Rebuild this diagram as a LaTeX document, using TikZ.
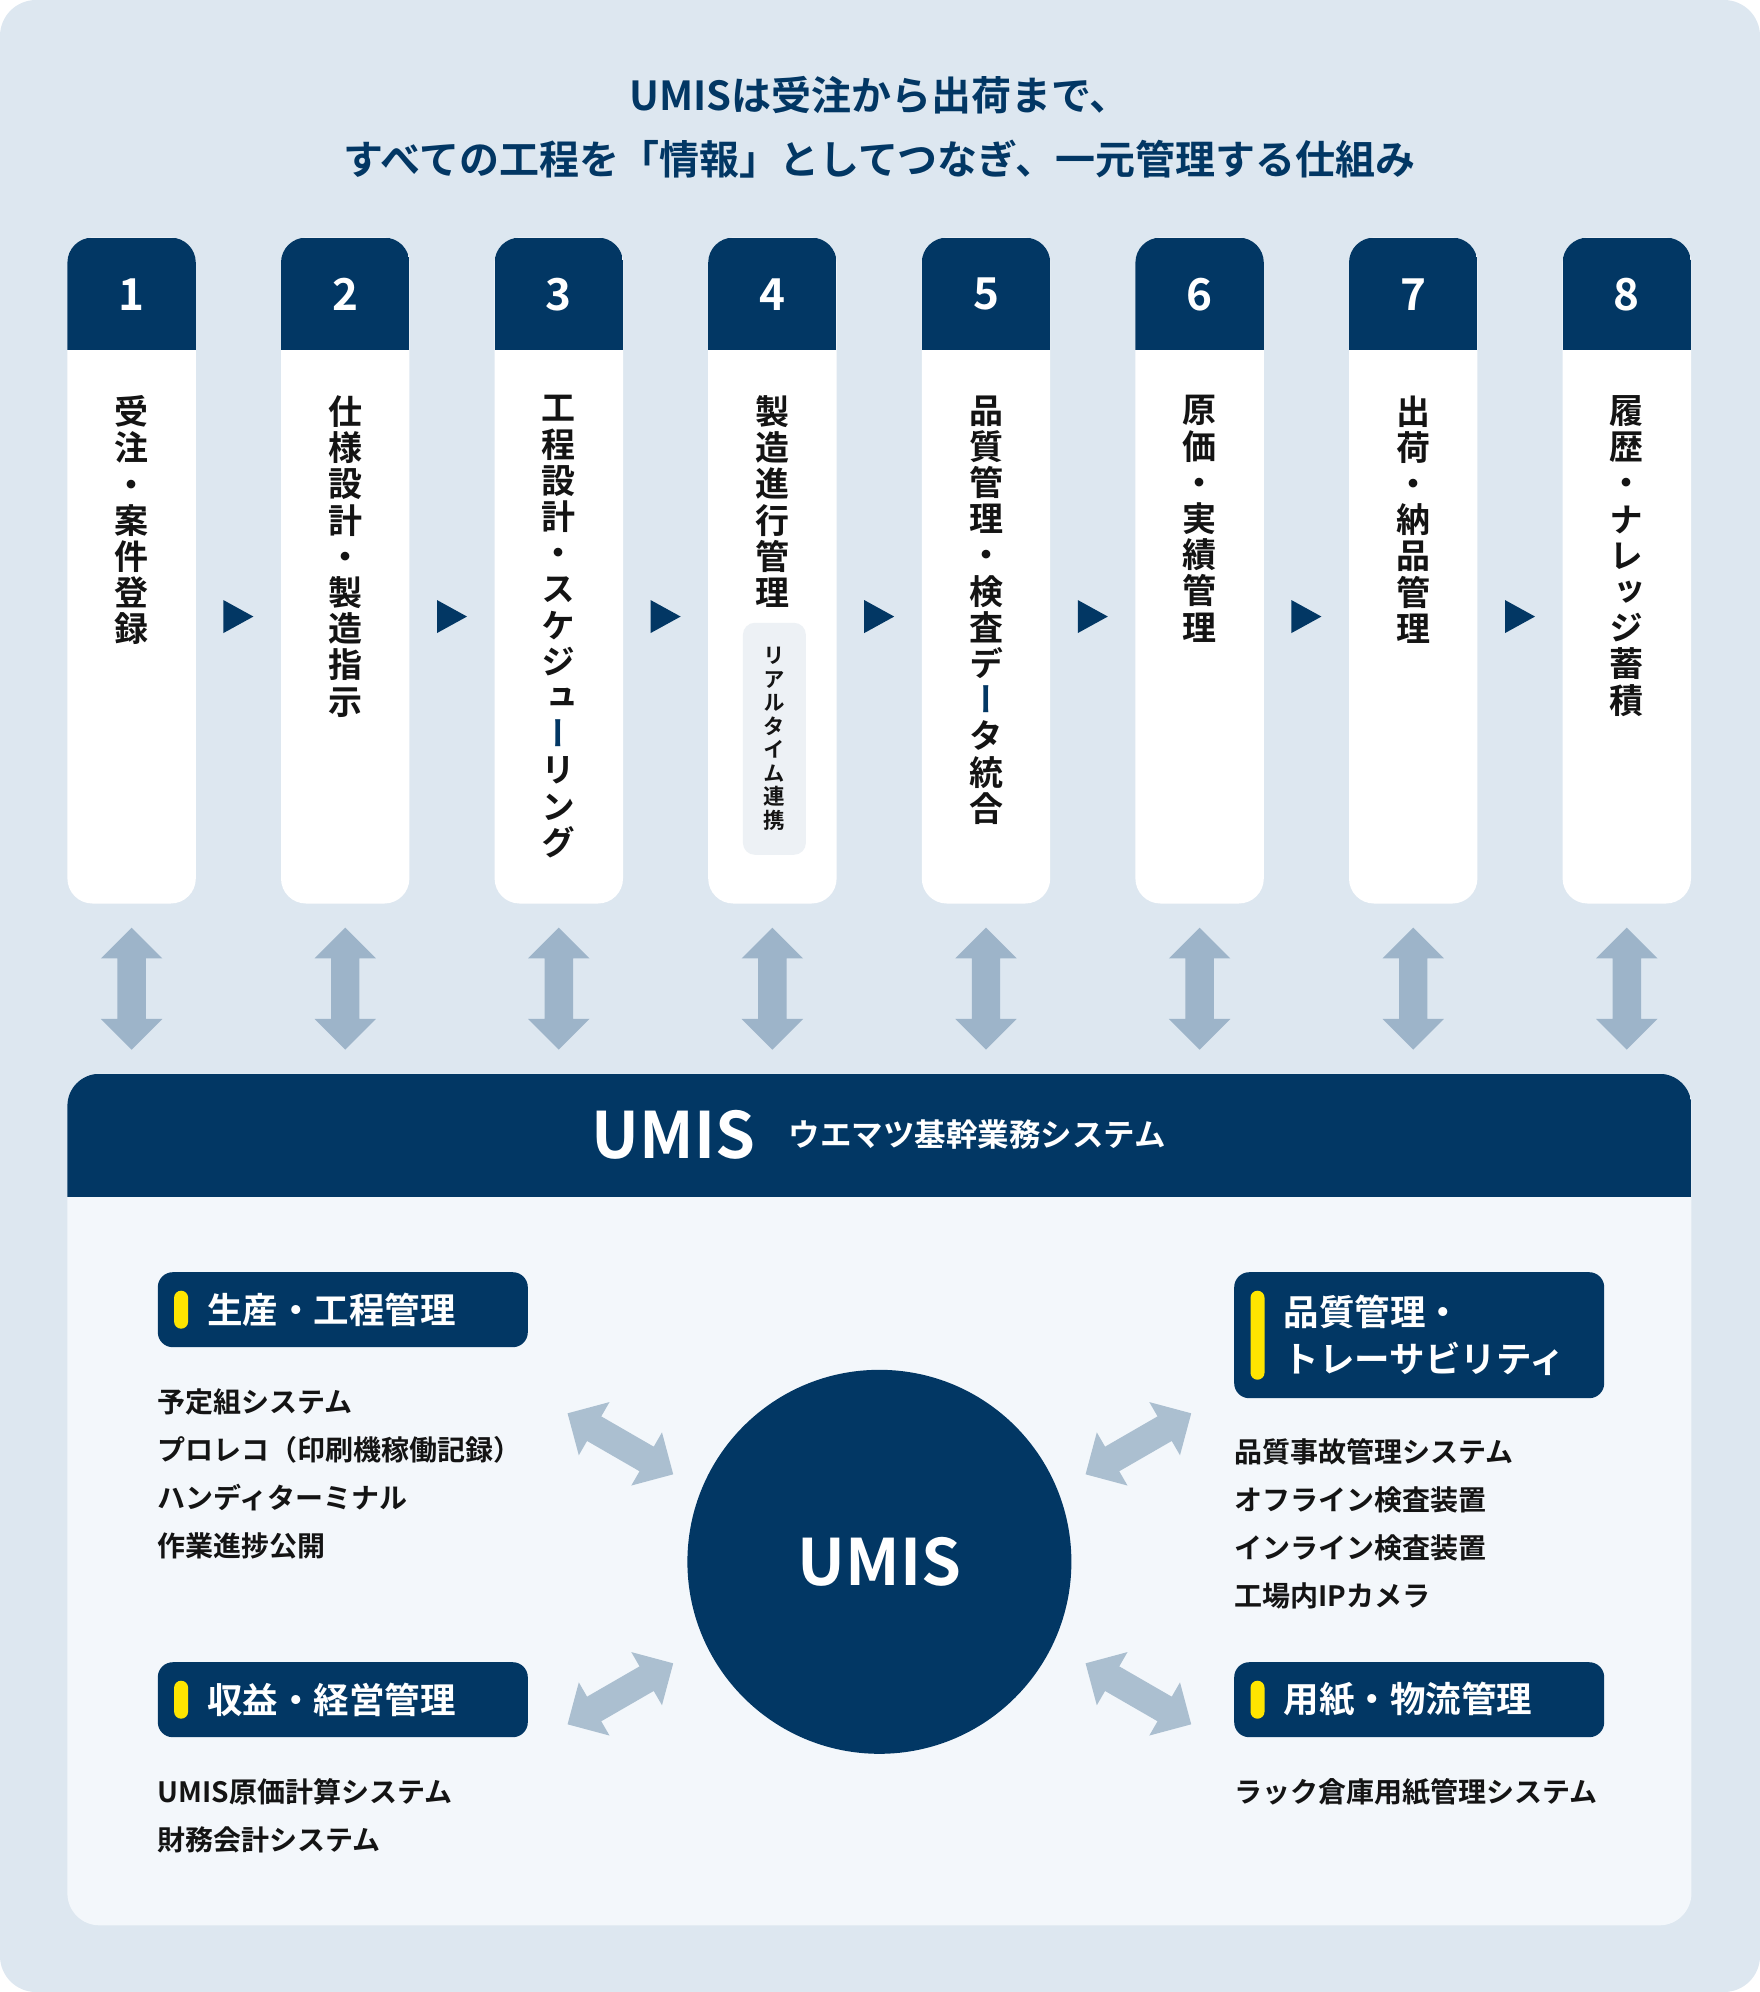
\documentclass[tikz,border=0pt]{standalone}
\usepackage{fontspec}
\setmainfont{Noto Sans CJK JP}[BoldFont={Noto Sans CJK JP Bold}]
\newfontfamily\vjp{Noto Sans CJK JP}[BoldFont={Noto Sans CJK JP Bold},RawFeature={+vert}]
\usepackage{tikz}
\usetikzlibrary{positioning,calc,shapes.arrows}
\definecolor{umnavy}{HTML}{023764}
\definecolor{bgblue}{HTML}{DDE7F0}
\definecolor{panelbg}{HTML}{F3F7FB}
\definecolor{linkblue}{HTML}{9DB4C9}
\definecolor{linklight}{HTML}{ABBFD0}
\definecolor{subgray}{HTML}{EDF1F5}
\definecolor{pillyellow}{HTML}{FFE500}

\begin{document}
\begin{tikzpicture}[x=1pt, y=1pt,
    card/.style={fill=white, rounded corners=25pt, minimum width=128.4pt,
                 minimum height=665.9pt, inner sep=0pt,
                 path picture={\fill[umnavy, sharp corners] (path picture bounding box.north west)
                               rectangle ([yshift=-112pt]path picture bounding box.north east);}},
    num/.style={text=white, inner sep=0pt, font=\bfseries\fontsize{44}{44}\selectfont},
    vt/.style={anchor=north, align=center, inner sep=0pt, text=black!92,
               font=\vjp\bfseries\fontsize{34}{36.2}\selectfont},
    link/.style={double arrow, double arrow head extend=16.5pt, double arrow head indent=0pt,
                 minimum height=122pt, minimum width=61pt, inner xsep=0pt, inner ysep=14pt},
    vlink/.style={link, fill=linkblue, rotate=90},
    dlink/.style={link, fill=linklight},
    cat/.style={anchor=north west, fill=umnavy, rounded corners=15pt, text=white,
                align=left, text width=271pt, inner xsep=49.5pt, inner ysep=0pt,
                minimum height=75pt, font=\bfseries\fontsize{35.5}{47}\selectfont},
    pill/.style={fill=pillyellow, rounded corners=7pt, minimum width=14pt,
                 minimum height=38pt, inner sep=0pt},
    items/.style={anchor=north west, align=left, inner sep=0pt, text=black!92,
                  font=\bfseries\fontsize{28}{48}\selectfont},
]
% === Background ===
\useasboundingbox (0,0) rectangle (1760,-1992);
\fill[bgblue, rounded corners=36pt] (0,0) rectangle (1760,-1992);

% === Title ===
\node[align=center, text=umnavy, font=\bfseries\fontsize{40}{64}\selectfont] at (879.4,-127) (ttl)
     {UMISは受注から出荷まで、\\すべての工程を「情報」としてつなぎ、一元管理する仕組み};

% === Row 1: process cards ===
\node[card] at (131.6,-570.55) (c1) {};
\node[card] at (345.2,-570.55) (c2) {};
\node[card] at (558.8,-570.55) (c3) {};
\node[card] at (772.4,-570.55) (c4) {};
\node[card] at (986.0,-570.55) (c5) {};
\node[card] at (1199.6,-570.55) (c6) {};
\node[card] at (1413.2,-570.55) (c7) {};
\node[card] at (1626.8,-570.55) (c8) {};

\node[num] at ([yshift=-57pt]c1.north) (n1) {1};
\node[num] at ([yshift=-57pt]c2.north) (n2) {2};
\node[num] at ([yshift=-57pt]c3.north) (n3) {3};
\node[num] at ([yshift=-57pt]c4.north) (n4) {4};
\node[num] at ([yshift=-57pt]c5.north) (n5) {5};
\node[num] at ([yshift=-57pt]c6.north) (n6) {6};
\node[num] at ([yshift=-57pt]c7.north) (n7) {7};
\node[num] at ([yshift=-57pt]c8.north) (n8) {8};

\node[vt] at ([yshift=-158pt]c1.north) (l1) {受\\注\\・\\案\\件\\登\\録};
\node[vt] at ([yshift=-158pt]c2.north) (l2) {仕\\様\\設\\計\\・\\製\\造\\指\\示};
\node[vt] at ([yshift=-158pt]c3.north) (l3)
     {工\\程\\設\\計\\・\\ス\\ケ\\ジ\\ュ\\\textcolor{umnavy}{ー}\\リ\\ン\\グ};
\node[vt] at ([yshift=-158pt]c4.north) (l4) {製\\造\\進\\行\\管\\理};
\node[vt] at ([yshift=-158pt]c5.north) (l5)
     {品\\質\\管\\理\\・\\検\\査\\デ\\\textcolor{umnavy}{ー}\\タ\\統\\合};
\node[vt] at ([yshift=-158pt]c6.north) (l6) {原\\価\\・\\実\\績\\管\\理};
\node[vt] at ([yshift=-158pt]c7.north) (l7) {出\\荷\\・\\納\\品\\管\\理};
\node[vt] at ([yshift=-158pt]c8.north) (l8) {履\\歴\\・\\ナ\\レ\\ッ\\ジ\\蓄\\積};

% sub label in card 4
\node[fill=subgray, rounded corners=12pt, minimum width=63pt, minimum height=232pt,
      inner sep=0pt, align=center, text=black!92,
      font=\vjp\bfseries\fontsize{21.5}{23.5}\selectfont]
     at ([xshift=2pt, yshift=-501.4pt]c4.north) (rt) {リ\\ア\\ル\\タ\\イ\\ム\\連\\携};

% --- flow marks between cards ---
\coordinate (t1) at ($(c1.east)!0.5!(c2.west)$);
\coordinate (t2) at ($(c2.east)!0.5!(c3.west)$);
\coordinate (t3) at ($(c3.east)!0.5!(c4.west)$);
\coordinate (t4) at ($(c4.east)!0.5!(c5.west)$);
\coordinate (t5) at ($(c5.east)!0.5!(c6.west)$);
\coordinate (t6) at ($(c6.east)!0.5!(c7.west)$);
\coordinate (t7) at ($(c7.east)!0.5!(c8.west)$);
\fill[umnavy] ($(t1)+(-15,-29.5)$) -- ++(30,-16.5) -- ++(-30,-16.5) -- cycle;
\fill[umnavy] ($(t2)+(-15,-29.5)$) -- ++(30,-16.5) -- ++(-30,-16.5) -- cycle;
\fill[umnavy] ($(t3)+(-15,-29.5)$) -- ++(30,-16.5) -- ++(-30,-16.5) -- cycle;
\fill[umnavy] ($(t4)+(-15,-29.5)$) -- ++(30,-16.5) -- ++(-30,-16.5) -- cycle;
\fill[umnavy] ($(t5)+(-15,-29.5)$) -- ++(30,-16.5) -- ++(-30,-16.5) -- cycle;
\fill[umnavy] ($(t6)+(-15,-29.5)$) -- ++(30,-16.5) -- ++(-30,-16.5) -- cycle;
\fill[umnavy] ($(t7)+(-15,-29.5)$) -- ++(30,-16.5) -- ++(-30,-16.5) -- cycle;

% === Row 2: UMIS panel ===
\node[fill=panelbg, rounded corners=32pt, minimum width=1624pt, minimum height=851.5pt, inner sep=0pt,
      path picture={\fill[umnavy, sharp corners] (path picture bounding box.north west)
                    rectangle ([yshift=-123.3pt]path picture bounding box.north east);}]
     at (879.4,-1499.55) (panel) {};
\node[text=white, inner sep=0pt, font=\bfseries\fontsize{64}{64}\selectfont] at (673.5,-1134.8) (hd) {UMIS};
\node[text=white, inner sep=0pt, font=\bfseries\fontsize{31.5}{31.5}\selectfont, right=33pt of hd] (hdsub)
     {ウエマツ基幹業務システム};

% --- links cards <-> panel ---
\node[vlink] at ($(c1.south)!0.5!(c1.south|-panel.north)$) (v1) {};
\node[vlink] at ($(c2.south)!0.5!(c2.south|-panel.north)$) (v2) {};
\node[vlink] at ($(c3.south)!0.5!(c3.south|-panel.north)$) (v3) {};
\node[vlink] at ($(c4.south)!0.5!(c4.south|-panel.north)$) (v4) {};
\node[vlink] at ($(c5.south)!0.5!(c5.south|-panel.north)$) (v5) {};
\node[vlink] at ($(c6.south)!0.5!(c6.south|-panel.north)$) (v6) {};
\node[vlink] at ($(c7.south)!0.5!(c7.south|-panel.north)$) (v7) {};
\node[vlink] at ($(c8.south)!0.5!(c8.south|-panel.north)$) (v8) {};

% --- hub ---
\node[circle, fill=umnavy, minimum size=384pt, inner sep=0pt, text=white,
      font=\bfseries\fontsize{64}{64}\selectfont] at (879.4,-1561.8) (hub) {UMIS};

% --- categories ---
\node[cat] at (157.6,-1272) (g1) {生産・工程管理};
\node[cat] at (157.6,-1662) (g2) {収益・経営管理};
\node[cat, minimum height=126pt] at (1234,-1272) (g3) {品質管理・\\トレーサビリティ};
\node[cat] at (1234,-1662) (g4) {用紙・物流管理};
\node[pill] at ([xshift=23.5pt]g1.west) (p1) {};
\node[pill] at ([xshift=23.5pt]g2.west) (p2) {};
\node[pill, minimum height=89pt] at ([xshift=23.5pt]g3.west) (p3) {};
\node[pill] at ([xshift=23.5pt]g4.west) (p4) {};

\node[items] at ([yshift=-41pt]g1.south west) (i1)
     {予定組システム\\プロレコ（印刷機稼働記録）\\ハンディターミナル\\作業進捗公開};
\node[items] at ([yshift=-41pt]g2.south west) (i2) {UMIS原価計算システム\\財務会計システム};
\node[items] at ([yshift=-40pt]g3.south west) (i3)
     {品質事故管理システム\\オフライン検査装置\\インライン検査装置\\工場内IPカメラ};
\node[items] at ([yshift=-41pt]g4.south west) (i4) {ラック倉庫用紙管理システム};

% --- links categories <-> hub ---
\node[dlink, rotate=-30] at ($(hub)+(-259,118)$) (a1) {};
\node[dlink, rotate=30] at ($(hub)+(-259,-132)$) (a2) {};
\node[dlink, rotate=30] at ($(hub)+(259,118)$) (a3) {};
\node[dlink, rotate=-30] at ($(hub)+(259,-132)$) (a4) {};

\end{tikzpicture}
\end{document}
